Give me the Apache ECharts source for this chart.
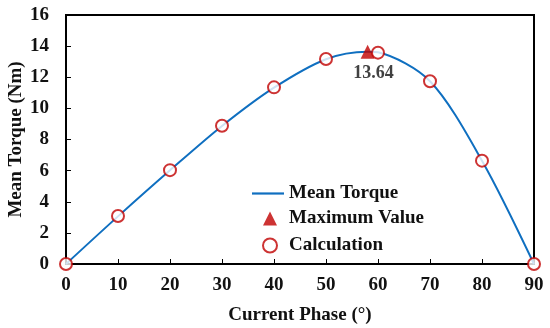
<!DOCTYPE html>
<html><head><meta charset="utf-8">
<script src="https://cdn.jsdelivr.net/npm/echarts@6/dist/echarts.min.js"></script>
<style>html,body{margin:0;padding:0;background:#fff}#c{width:550px;height:328px}</style>
</head><body><div id="c"></div>
<script>
const phase = [0, 10, 20, 30, 40, 50, 60, 70, 80, 90];
const calcTorque = [0, 3.08, 6.03, 8.88, 11.35, 13.17, 13.58, 11.74, 6.64, 0];
const curvePhase = [0, 10, 20, 30, 40, 50, 58, 60, 70, 80, 90];
const curveTorque = [0, 3.06, 6.02, 8.87, 11.33, 13.16, 13.64, 13.6, 11.74, 6.64, 0];
const maxPhase = 58;
const maxTorque = 13.64;
const yTicks = [0, 16, 2];
const xTicks = [0, 90, 10];

const font = 'Liberation Serif';
const txt = {fontFamily: font, fontWeight: 'bold', fontSize: 19, color: '#111'};
const chart = echarts.init(document.getElementById('c'));
chart.setOption({
  animation: false,
  grid: {left: 66, right: 16, top: 15, bottom: 64, show: true, borderColor: '#000', borderWidth: 2,
         containLabel: false, outerBoundsMode: 'none'},
  legend: [
    {
      orient: 'vertical', left: 247, top: 179, itemWidth: 32, itemHeight: 14,
      textStyle: txt, icon: 'path://M0,0 L32,0 L32,2.2 L0,2.2 Z',
      itemStyle: {color: '#0f6fc0'},
      data: ['Mean Torque']
    },
    {
      orient: 'vertical', left: 257, top: 204, itemGap: 8, itemWidth: 14, itemHeight: 14,
      textStyle: Object.assign({}, txt, {rich: {s: {width: 7}}}),
      formatter: name => '{s|}' + name,
      data: [
        {name: 'Maximum Value', icon: 'triangle'},
        {name: 'Calculation', icon: 'circle'}
      ]
    }
  ],
  xAxis: {
    type: 'value', min: xTicks[0], max: xTicks[1], interval: xTicks[2],
    name: 'Current Phase (°)', nameLocation: 'middle', nameGap: 42, nameMoveOverlap: false,
    nameTextStyle: txt,
    axisLine: {lineStyle: {color: '#000', width: 2}},
    axisTick: {inside: true, length: 5, lineStyle: {color: '#000'}},
    axisLabel: Object.assign({margin: 12}, txt),
    splitLine: {show: false}
  },
  yAxis: {
    type: 'value', min: yTicks[0], max: yTicks[1], interval: yTicks[2],
    name: 'Mean Torque (Nm)', nameLocation: 'middle', nameGap: 40, nameMoveOverlap: false,
    nameTextStyle: txt,
    axisLine: {show: true, lineStyle: {color: '#000', width: 2}},
    axisTick: {show: true, inside: true, length: 5, lineStyle: {color: '#000'}},
    axisLabel: Object.assign({margin: 17}, txt),
    splitLine: {show: false}
  },
  series: [
    {
      name: 'Mean Torque', type: 'line', smooth: 0.3, symbol: 'none',
      lineStyle: {color: '#0f6fc0', width: 2}, itemStyle: {color: '#0f6fc0'},
      data: curvePhase.map((p, i) => [p, curveTorque[i]]), z: 2
    },
    {
      name: 'Calculation', type: 'scatter', symbol: 'circle', symbolSize: 12,
      itemStyle: {color: '#fff', borderColor: '#c00000', borderWidth: 2},
      data: phase.map((p, i) => [p, calcTorque[i]]), z: 3
    },
    {
      name: 'Maximum Value', type: 'scatter', symbol: 'triangle', symbolSize: 14,
      itemStyle: {color: '#c00000'},
      label: Object.assign({show: true, position: 'bottom', offset: [6, 1], formatter: () => maxTorque.toFixed(2)}, txt, {fontSize: 18}),
      data: [[maxPhase, maxTorque]], z: 4
    }
  ]
});
</script></body></html>
